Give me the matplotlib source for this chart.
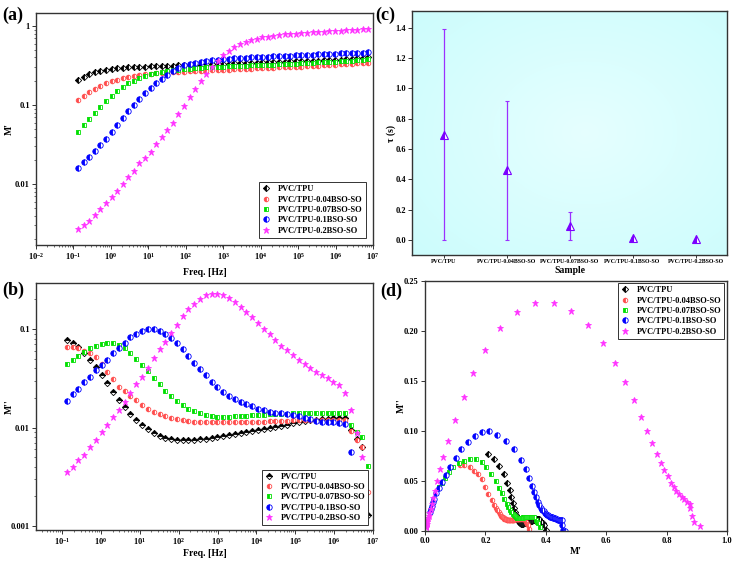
import numpy as np
import matplotlib
matplotlib.use('Agg')
import matplotlib.pyplot as plt
from matplotlib.ticker import LogLocator, NullFormatter, FormatStrFormatter, FixedLocator

plt.rcParams['font.family'] = ['Liberation Serif', 'DejaVu Serif']
plt.rcParams['font.weight'] = 'bold'
plt.rcParams['axes.labelweight'] = 'bold'
plt.rcParams['mathtext.fontset'] = 'custom'
plt.rcParams['mathtext.bf'] = 'Liberation Serif:bold'
plt.rcParams['mathtext.rm'] = 'Liberation Serif:bold'

# ---------------- data ----------------
samples = ["PVC/TPU", "PVC/TPU-0.04BSO-SO", "PVC/TPU-0.07BSO-SO",
           "PVC/TPU-0.1BSO-SO", "PVC/TPU-0.2BSO-SO"]

freq = [0.132, 0.186, 0.262, 0.369, 0.521, 0.735, 1.04, 1.46, 2.06, 2.90,
        4.09, 5.77, 8.14, 11.5, 16.2, 22.8, 32.2, 45.3, 63.9, 90.1,
        127, 179, 253, 356, 502, 708, 998, 1410, 1980, 2800,
        3950, 5560, 7840, 11100, 15600, 22000, 31000, 43700, 61600, 86900,
        1.22e5, 1.73e5, 2.43e5, 3.43e5, 4.84e5, 6.82e5, 9.62e5, 1.36e6, 1.91e6, 2.70e6,
        3.80e6, 5.36e6, 7.56e6]

# M' (real part of modulus)
mp_pvc = [0.208, 0.228, 0.245, 0.260, 0.271, 0.280, 0.286, 0.291, 0.295, 0.299,
          0.302, 0.304, 0.306, 0.308, 0.310, 0.312, 0.314, 0.315, 0.317, 0.319,
          0.321, 0.322, 0.324, 0.326, 0.328, 0.330, 0.332, 0.334, 0.336, 0.338,
          0.340, 0.342, 0.344, 0.346, 0.348, 0.350, 0.352, 0.354, 0.356, 0.358,
          0.360, 0.362, 0.364, 0.366, 0.368, 0.370, 0.373, 0.376, 0.379, 0.385,
          0.390, 0.394, 0.400]
mp_004 = [0.116, 0.130, 0.148, 0.162, 0.175, 0.188, 0.200, 0.210, 0.221, 0.229,
          0.235, 0.240, 0.245, 0.249, 0.253, 0.256, 0.259, 0.261, 0.263, 0.265,
          0.267, 0.269, 0.271, 0.273, 0.275, 0.277, 0.279, 0.281, 0.283, 0.285,
          0.287, 0.289, 0.291, 0.293, 0.295, 0.297, 0.299, 0.301, 0.303, 0.305,
          0.307, 0.309, 0.311, 0.314, 0.317, 0.320, 0.323, 0.326, 0.329, 0.333,
          0.337, 0.341, 0.345]
mp_007 = [0.045, 0.056, 0.066, 0.080, 0.094, 0.112, 0.130, 0.150, 0.168, 0.188,
          0.203, 0.219, 0.234, 0.246, 0.255, 0.263, 0.270, 0.276, 0.281, 0.286,
          0.290, 0.294, 0.297, 0.300, 0.303, 0.305, 0.307, 0.309, 0.311, 0.313,
          0.315, 0.317, 0.319, 0.321, 0.323, 0.325, 0.327, 0.329, 0.331, 0.334,
          0.337, 0.340, 0.343, 0.346, 0.349, 0.352, 0.355, 0.358, 0.362, 0.366,
          0.370, 0.375, 0.380]
mp_01 = [0.0158, 0.0188, 0.0222, 0.0263, 0.031, 0.0377, 0.046, 0.056, 0.069, 0.084,
         0.101, 0.120, 0.142, 0.166, 0.190, 0.212, 0.240, 0.268, 0.295, 0.317,
         0.333, 0.345, 0.355, 0.362, 0.368, 0.374, 0.379, 0.384, 0.389, 0.393,
         0.397, 0.401, 0.404, 0.407, 0.410, 0.413, 0.416, 0.419, 0.422, 0.425,
         0.428, 0.431, 0.434, 0.437, 0.440, 0.443, 0.446, 0.449, 0.452, 0.455,
         0.458, 0.461, 0.464]
mp_02 = [0.00267, 0.00302, 0.00344, 0.00405, 0.0048, 0.0057, 0.0068, 0.0082, 0.0100, 0.0122,
         0.0147, 0.0183, 0.0217, 0.0256, 0.0322, 0.0398, 0.049, 0.0598, 0.077, 0.0980,
         0.128, 0.160, 0.200, 0.248, 0.305, 0.365, 0.428, 0.485, 0.540, 0.590,
         0.630, 0.663, 0.692, 0.716, 0.735, 0.752, 0.768, 0.782, 0.792, 0.803,
         0.814, 0.823, 0.832, 0.842, 0.851, 0.858, 0.867, 0.876, 0.878, 0.884,
         0.890, 0.910, 0.915]

# M'' (imaginary part of modulus)
mpp_pvc = [0.077, 0.072, 0.065, 0.057, 0.048, 0.041, 0.034, 0.028, 0.023, 0.019,
           0.016, 0.0137, 0.0119, 0.0107, 0.0097, 0.0089, 0.0083, 0.0079, 0.0076, 0.0075,
           0.0074, 0.0074, 0.0075, 0.0076, 0.0077, 0.0079, 0.0080, 0.0082, 0.0084, 0.0086,
           0.0088, 0.0090, 0.0092, 0.0094, 0.0096, 0.0099, 0.0101, 0.0104, 0.0107, 0.0110,
           0.0113, 0.0116, 0.0118, 0.0120, 0.0122, 0.0123, 0.0124, 0.0125, 0.0124, 0.0095,
           0.0076, 0.0063, 0.0013]
mpp_004 = [0.066, 0.066, 0.064, 0.060, 0.057, 0.052, 0.044, 0.037, 0.031, 0.026,
           0.0235, 0.021, 0.019, 0.017, 0.0155, 0.0145, 0.0137, 0.0130, 0.0125, 0.0121,
           0.0118, 0.0116, 0.0115, 0.0114, 0.0113, 0.0113, 0.0113, 0.0113, 0.0113, 0.0113,
           0.0113, 0.0114, 0.0114, 0.0115, 0.0115, 0.0116, 0.0116, 0.0117, 0.0117, 0.0118,
           0.0118, 0.0119, 0.0119, 0.0120, 0.0120, 0.0120, 0.0120, 0.0120, 0.0118, 0.0092,
           0.0075, 0.0063, 0.0022]
mpp_007 = [0.0438, 0.0484, 0.0532, 0.059, 0.0636, 0.068, 0.0705, 0.0716, 0.0716, 0.069,
           0.0636, 0.0566, 0.0496, 0.043, 0.0378, 0.0316, 0.0274, 0.0237, 0.021, 0.0186,
           0.017, 0.0156, 0.0147, 0.0140, 0.0134, 0.0131, 0.0129, 0.0129, 0.0129, 0.0130,
           0.0131, 0.0132, 0.0133, 0.0134, 0.0135, 0.0136, 0.0137, 0.0138, 0.0138, 0.0139,
           0.0139, 0.0140, 0.0140, 0.0140, 0.0140, 0.0140, 0.0140, 0.0140, 0.0139, 0.0106,
           0.0090, 0.0080, 0.0041]
mpp_01 = [0.0187, 0.0219, 0.0246, 0.0287, 0.0323, 0.0383, 0.043, 0.049, 0.0565, 0.0636,
          0.0727, 0.0823, 0.089, 0.0954, 0.099, 0.100, 0.096, 0.090, 0.0817, 0.0715,
          0.0622, 0.0532, 0.0455, 0.0393, 0.0339, 0.0292, 0.026, 0.023, 0.021, 0.0196,
          0.0183, 0.0173, 0.0165, 0.0156, 0.0149, 0.0144, 0.0141, 0.0139, 0.0136, 0.0134,
          0.0131, 0.0126, 0.0121, 0.0117, 0.0115, 0.0114, 0.0113, 0.0112, 0.0108, 0.0057,
          0.0015, 0.0004, 0.0002]
mpp_02 = [0.00356, 0.0040, 0.0047, 0.0053, 0.0063, 0.0075, 0.0090, 0.0106, 0.0128, 0.0152,
          0.0183, 0.0222, 0.0274, 0.0328, 0.0398, 0.0503, 0.0622, 0.0744, 0.0904, 0.111,
          0.134, 0.158, 0.181, 0.203, 0.219, 0.228, 0.228, 0.220, 0.206, 0.188,
          0.168, 0.149, 0.131, 0.114, 0.100, 0.088, 0.077, 0.068, 0.061, 0.055,
          0.0485, 0.0438, 0.0399, 0.0369, 0.0341, 0.0316, 0.0292, 0.027, 0.0226, 0.0151,
          0.0088, 0.0050, np.nan]

tau = [0.695, 0.458, 0.094, 0.011, 0.004]
tau_err = [0.695, 0.458, 0.093, 0.009, 0.003]

mp_all = [mp_pvc, mp_004, mp_007, mp_01, mp_02]
mpp_all = [mpp_pvc, mpp_004, mpp_007, mpp_01, mpp_02]

# ---------------- styles ----------------
styles = [
    dict(marker='D', color='black', ms=3.2, fill='left'),
    dict(marker='o', color='#ff4d4d', ms=3.3, fill='left'),
    dict(marker='s', color='#00e000', ms=3.3, fill='left'),
    dict(marker='o', color='#0000ff', ms=3.9, fill='left'),
    dict(marker='*', color='#ff33ff', ms=5.0, fill='full'),
]

FS_TICK = 6
FS_LAB = 7
SPINE = '#333333'


def draw_series(ax, x, y, st, label, fill=None):
    ax.plot(x, y, ls='none', marker=st['marker'], ms=st['ms'],
            mfc=st['color'], mec=st['color'], mew=0.6,
            fillstyle=fill or st['fill'], markerfacecoloralt='white',
            label=label, clip_on=True)


def style_axes(ax):
    for s in ax.spines.values():
        s.set_color(SPINE)
        s.set_linewidth(1.0)
    ax.tick_params(which='major', direction='out', length=3, width=0.7,
                   labelsize=FS_TICK, pad=1.5, color=SPINE)
    ax.tick_params(which='minor', direction='out', length=1.5, width=0.5, color=SPINE)


def legend(ax, loc, pad):
    lg = ax.legend(loc=loc, prop={'weight': 'bold', 'size': 6}, frameon=True,
                   fancybox=False, edgecolor='#333333', framealpha=1,
                   handlelength=1.0, handletextpad=0.9, labelspacing=0.28,
                   borderpad=0.35, borderaxespad=pad, numpoints=1)
    lg.get_frame().set_linewidth(0.7)
    return lg


W, H = 733, 561
fig = plt.figure(figsize=(W / 100, H / 100), dpi=100)


def rect(l, r, t, b):
    return [l / W, 1 - b / H, (r - l) / W, (b - t) / H]


ax_a = fig.add_axes(rect(36, 373, 13, 245))
ax_b = fig.add_axes(rect(36, 373, 283, 530))
ax_c_bg = fig.add_axes(rect(412, 727, 11, 255), zorder=0)
ax_c = fig.add_axes(rect(412, 727, 11, 255), zorder=1)
ax_d = fig.add_axes(rect(425, 727, 281, 531))

# ---------- (a) ----------
for y, st, lab in zip(mp_all, styles, samples):
    draw_series(ax_a, freq, y, st, lab)
ax_a.set_xscale('log')
ax_a.set_yscale('log')
ax_a.set_xlim(1e-2, 1e7)
ax_a.set_ylim(0.0017, 1.46)
exps = list(range(-2, 8))
ax_a.xaxis.set_major_locator(FixedLocator([10.0 ** e for e in exps]))
ax_a.set_xticklabels([r'$\mathbf{10^{%d}}$' % e for e in exps])
ax_a.xaxis.set_minor_locator(LogLocator(base=10, subs=np.arange(2, 10), numticks=20))
ax_a.xaxis.set_minor_formatter(NullFormatter())
ax_a.yaxis.set_major_locator(FixedLocator([0.01, 0.1, 1]))
ax_a.set_yticklabels(['0.01', '0.1', '1'])
ax_a.yaxis.set_minor_locator(LogLocator(base=10, subs=np.arange(2, 10), numticks=20))
ax_a.yaxis.set_minor_formatter(NullFormatter())
style_axes(ax_a)
ax_a.set_xlabel('Freq. [Hz]', fontsize=FS_LAB)
ax_a.set_ylabel("M'", fontsize=FS_LAB)
ax_a.xaxis.set_label_coords(0.5, -0.10)
ax_a.yaxis.set_label_coords(-0.065, 0.5)
legend(ax_a, 'lower right', 0.9)

# ---------- (b) ----------
for i, (y, st, lab) in enumerate(zip(mpp_all, styles, samples)):
    draw_series(ax_b, freq, y, st, lab, fill='top' if i == 0 else None)
ax_b.set_xscale('log')
ax_b.set_yscale('log')
ax_b.set_xlim(0.0214, 1e7)
ax_b.set_ylim(0.000912, 0.293)
exps_b = list(range(-1, 8))
ax_b.xaxis.set_major_locator(FixedLocator([10.0 ** e for e in exps_b]))
ax_b.set_xticklabels([r'$\mathbf{10^{%d}}$' % e for e in exps_b])
ax_b.xaxis.set_minor_locator(LogLocator(base=10, subs=np.arange(2, 10), numticks=20))
ax_b.xaxis.set_minor_formatter(NullFormatter())
ax_b.yaxis.set_major_locator(FixedLocator([0.001, 0.01, 0.1]))
ax_b.set_yticklabels(['0.001', '0.01', '0.1'])
ax_b.yaxis.set_minor_locator(LogLocator(base=10, subs=np.arange(2, 10), numticks=20))
ax_b.yaxis.set_minor_formatter(NullFormatter())
style_axes(ax_b)
ax_b.set_xlabel('Freq. [Hz]', fontsize=FS_LAB)
ax_b.set_ylabel("M''", fontsize=FS_LAB)
ax_b.xaxis.set_label_coords(0.5, -0.077)
ax_b.yaxis.set_label_coords(-0.065, 0.5)
legend(ax_b, 'lower right', 0.6)

# ---------- (c) ----------
yy, xx = np.mgrid[0:1:200j, 0:1:200j]
r = np.clip(np.sqrt(((xx - 0.55) / 0.75) ** 2 + ((yy - 0.5) / 0.75) ** 2), 0, 1)
c_in = np.array([0.90, 1.0, 1.0])
c_out = np.array([0.80, 0.99, 0.99])
img = c_in[None, None, :] * (1 - r[..., None]) + c_out[None, None, :] * r[..., None]
ax_c_bg.imshow(img, extent=[0, 1, 0, 1], aspect='auto')
ax_c_bg.set_axis_off()
ax_c.set_facecolor('none')
xpos = np.arange(len(samples))
ax_c.errorbar(xpos, tau, yerr=tau_err, fmt='none', ecolor='#9b30ff', elinewidth=0.9,
              capsize=1.5, capthick=0.8)
ax_c.plot(xpos, tau, ls='none', marker='^', ms=6.0, mfc='#7a00ff', mec='#7a00ff',
          mew=0.8, fillstyle='left', markerfacecoloralt='white')
ax_c.set_xlim(-0.5, 4.5)
ax_c.set_ylim(-0.1, 1.51)
ax_c.set_xticks(xpos)
ax_c.set_xticklabels(samples)
ax_c.set_yticks(np.arange(0, 1.41, 0.2))
ax_c.yaxis.set_major_formatter(FormatStrFormatter('%.1f'))
style_axes(ax_c)
ax_c.tick_params(axis='x', length=2, pad=1, labelsize=4.2)
ax_c.set_xlabel('Sample', fontsize=FS_LAB)
ax_c.set_ylabel(r'τ (s)', fontsize=FS_LAB)
ax_c.xaxis.set_label_coords(0.5, -0.045)
ax_c.yaxis.set_label_coords(-0.05, 0.5)

# ---------- (d) ----------
for i, (x, y, st, lab) in enumerate(zip(mp_all, mpp_all, styles, samples)):
    draw_series(ax_d, x, y, st, lab)
ax_d.set_xlim(0, 1.0)
ax_d.set_ylim(0, 0.25)
ax_d.set_xticks(np.arange(0, 1.01, 0.2))
ax_d.set_yticks(np.arange(0, 0.251, 0.05))
ax_d.xaxis.set_major_formatter(FormatStrFormatter('%.1f'))
ax_d.yaxis.set_major_formatter(FormatStrFormatter('%.2f'))
style_axes(ax_d)
ax_d.set_xlabel("M'", fontsize=FS_LAB)
ax_d.set_ylabel("M''", fontsize=FS_LAB)
ax_d.xaxis.set_label_coords(0.5, -0.064)
ax_d.yaxis.set_label_coords(-0.063, 0.5)
legend(ax_d, 'upper right', 0.3)

# panel letters
for txt, px, py in [('(a)', 2, 15), ('(b)', 2, 290), ('(c)', 375, 15), ('(d)', 380, 291)]:
    fig.text(px / W, 1 - py / H, txt, fontsize=13, fontweight='bold', va='center', ha='left')

fig.savefig('out.png', dpi=100)
